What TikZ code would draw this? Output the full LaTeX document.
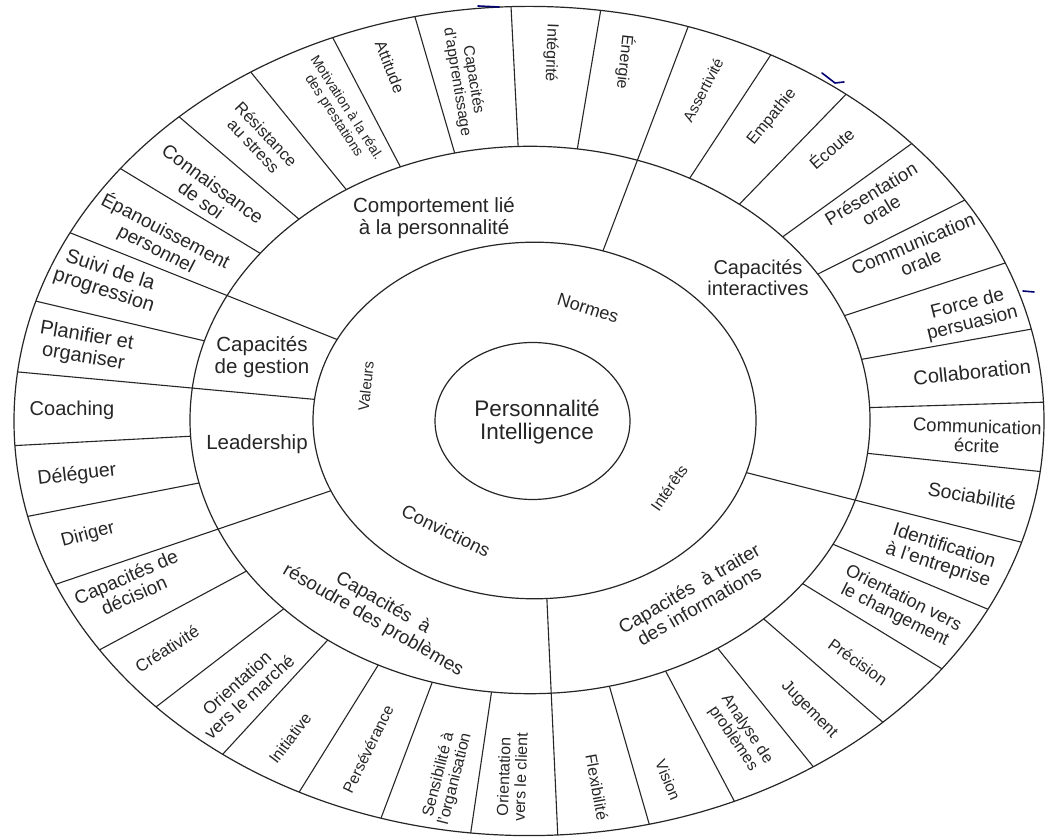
\documentclass[tikz,border=0pt]{standalone}
\usepackage{fontspec}
\setmainfont{Liberation Sans}
\usetikzlibrary{calc}

% font size with a matching line pitch
\newcommand{\lsz}[1]{\fontsize{#1}{\fpeval{1.05*#1}}\selectfont}

\begin{document}
\begin{tikzpicture}[x=1pt, y=1pt,
    ring/.style={draw=black!85, line width=1.2pt},
    spoke/.style={draw=black!85, line width=1.1pt},
    lab/.style={font=\lsz{#1}, text=black!85, align=center, inner sep=0pt},
    pen/.style={draw=blue!45!black, line width=1.6pt, line cap=round}]

\useasboundingbox (0,0) rectangle (1046,840);
\fill[white] (0,0) rectangle (1046,840);

% centres of the four rings
\coordinate (Co) at (529,419);
\coordinate (Cm) at (530,420);
\coordinate (Cs) at (534.5,419.5);
\coordinate (Ci) at (532.5,419);

% rings
\draw[ring] (Co) ellipse [x radius=515, y radius=414.6];
\draw[ring] (Cm) ellipse [x radius=340, y radius=273.7];
\draw[ring] (Cs) ellipse [x radius=221.5, y radius=178.3];
\draw[ring] (Ci) ellipse [x radius=97.5, y radius=78.5];

% dividers of the outer ring
\foreach \a in {92,82,62,52,42,32.2,22.4,12.8,2.6,-7,-27,-36.7,-46.6,-56.5,-66.5,-76.5,
                -96.5,-106.7,-116.5,-126.5,-136.4,-146.5,-166.7,-176.6,163.2,142.5,132.8,
                122.7,112.4,102.8}
  \draw[spoke] ($(Cm)+(\a:340 and 273.7)$) -- ($(Co)+(\a:515 and 414.6)$);

% dividers that also split the six groups
\foreach \a in {72,-17,-86.8,-156.8,173.2,153}
  \draw[spoke] ($(Cs)+(\a:221.5 and 178.3)$) -- ($(Co)+(\a:515 and 414.6)$);

% centre
\node[lab=22.5] (ctr) at (537,418) {Personnalité\\Intelligence};

% second ring
\node[lab=18, rotate=-17.7] (m1) at (588,532) {Normes};
\node[lab=15, rotate=84] (m2) at (366,454) {Valeurs};
\node[lab=18.5, rotate=-26] (m3) at (446,309) {Convictions};
\node[lab=15.5, rotate=55] (m4) at (669,352) {Intérêts};

% groups
\node[lab=20.5] (c1) at (434,622) {Comportement lié\\à la personnalité};
\node[lab=20] (c2) at (758,562) {Capacités\\interactives};
\node[lab=19, rotate=30] (c3) at (694,243) {Capacités\ \ à traiter\\des informations};
\node[lab=19, rotate=-30] (c4) at (378,228) {Capacités\ \ à\\résoudre des problèmes};
\node[lab=20.5] (c5) at (257,396) {Leadership};
\node[lab=20.5] (c6) at (262,483) {Capacités\\de gestion};

% outer ring
\node[lab=16, rotate=-92] (s01) at (551,787) {Intégrité};
\node[lab=16, rotate=-96] (s02) at (625,778) {Énergie};
\node[lab=15, rotate=62] (s03) at (703,750) {Assertivité};
\node[lab=16, rotate=51] (s04) at (772,723) {Empathie};
\node[lab=17, rotate=41] (s05) at (831,692) {Écoute};
\node[lab=18.5, rotate=31] (s06) at (876,638) {Présentation\\orale};
\node[lab=19, rotate=22.6] (s07) at (917,587) {Communication\\orale};
\node[lab=19, rotate=14] (s08) at (970,526) {Force de\\persuasion};
\node[lab=20, rotate=6] (s09) at (972,468) {Collaboration};
\node[lab=18.5, rotate=-2] (s10) at (977,404) {Communication\\écrite};
\node[lab=19.5, rotate=-10] (s11) at (972,344) {Sociabilité};
\node[lab=19, rotate=-18] (s12) at (941,284) {Identification\\à l'entreprise};
\node[lab=18, rotate=-26.6] (s13) at (899,233) {Orientation vers\\le changement};
\node[lab=16.5, rotate=-35.6] (s14) at (858,178) {Précision};
\node[lab=16.5, rotate=-45.4] (s15) at (809,130) {Jugement};
\node[lab=16, rotate=-56] (s16) at (740,106) {Analyse de\\problèmes};
\node[lab=15.5, rotate=-67.4] (s17) at (668,60) {Vision};
\node[lab=16, rotate=-79.7] (s18) at (597,53) {Flexibilité};
\node[lab=16, rotate=88] (s19) at (512,63) {Orientation\\vers le client};
\node[lab=16, rotate=75.7] (s20) at (447,63) {Sensibilité à\\l'organisation};
\node[lab=15.5, rotate=63.8] (s21) at (368,91) {Persévérance};
\node[lab=16, rotate=52.7] (s22) at (290,102) {Initiative};
\node[lab=17.5, rotate=42.4] (s23) at (243,150) {Orientation\\vers le marché};
\node[lab=17, rotate=32.7] (s24) at (167,191) {Créativité};
\node[lab=19, rotate=23.5] (s25) at (130,254) {Capacités de\\décision};
\node[lab=18.5, rotate=14.9] (s26) at (88,305) {Diriger};
\node[lab=19.5, rotate=6.7] (s27) at (77,365) {Déléguer};
\node[lab=20] (s28) at (72,430) {Coaching};
\node[lab=20, rotate=-9.5] (s29) at (85,493) {Planifier et\\organiser};
\node[lab=20, rotate=-17.9] (s30) at (107,559) {Suivi de la\\progression};
\node[lab=19, rotate=-27.5] (s31) at (161,600) {Épanouissement\\personnel};
\node[lab=19, rotate=-36.3] (s32) at (207,648) {Connaissance\\de soi};
\node[lab=16.5, rotate=-46.5] (s33) at (260,700) {Résistance\\au stress};
\node[lab=14, rotate=-57.1] (s34) at (340,728) {Motivation à la réal.\\des prestations};
\node[lab=16, rotate=-68.5] (s35) at (390,773) {Attitude};
\node[lab=15.5, rotate=-80.8] (s36) at (465,759) {Capacités\\d'apprentissage};

% pen ticks on the sheet
\draw[pen] (478,834) -- (499,833);
\draw[pen] (822,767) -- (835,757) -- (844,758);
\draw[pen] (1023,549) -- (1034,548);

\end{tikzpicture}
\end{document}
